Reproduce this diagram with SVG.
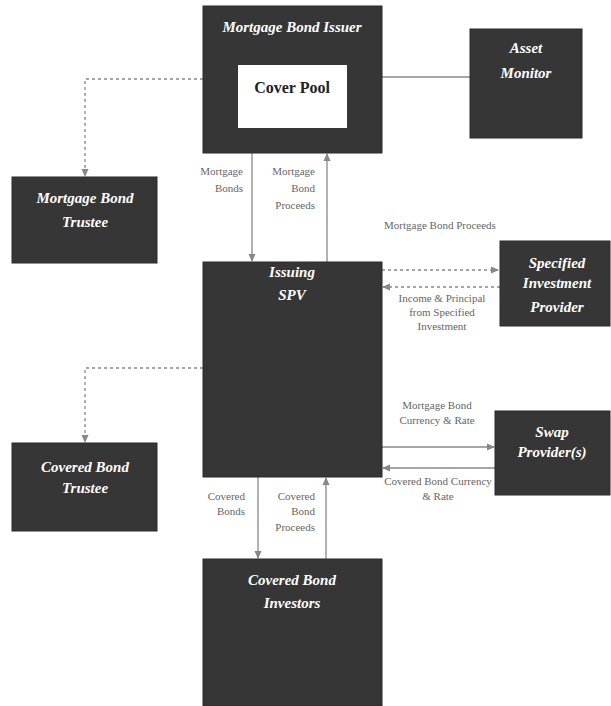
<svg xmlns="http://www.w3.org/2000/svg" width="611" height="706" viewBox="0 0 611 706">
<style>
.box{fill:#363636;stroke:#2a2a2a;stroke-width:1}
.t{font-family:"Liberation Serif",serif;font-weight:bold;font-style:italic;font-size:15px;fill:#ffffff;text-anchor:middle}
.cp{font-family:"Liberation Serif",serif;font-weight:bold;font-size:16px;fill:#222;text-anchor:middle}
.lbl{font-family:"Liberation Serif",serif;font-size:11px;fill:#666}
.m{text-anchor:middle}
.e{text-anchor:end}
.ln{stroke:#888;stroke-width:1.3;fill:none}
.d{stroke-dasharray:3,3}
</style>
<defs>
<marker id="ah" markerWidth="8" markerHeight="8" refX="7" refY="4" orient="auto" markerUnits="userSpaceOnUse">
<path d="M0,0.5 L8,4 L0,7.5 Z" fill="#888"/>
</marker>
</defs>
<rect width="611" height="706" fill="#ffffff"/>
<g id="connectors">
<line class="ln" x1="382" y1="77" x2="470" y2="77"/>
<polyline class="ln d" points="203,79 85,79 85,176" marker-end="url(#ah)"/>
<line class="ln" x1="252" y1="153" x2="252" y2="261" marker-end="url(#ah)"/>
<line class="ln" x1="327" y1="262" x2="327" y2="154" marker-end="url(#ah)"/>
<line class="ln d" x1="382" y1="270" x2="498" y2="270" marker-end="url(#ah)"/>
<line class="ln d" x1="500" y1="287" x2="383" y2="287" marker-end="url(#ah)"/>
<line class="ln" x1="382" y1="447" x2="494" y2="447" marker-end="url(#ah)"/>
<line class="ln" x1="495" y1="468" x2="383" y2="468" marker-end="url(#ah)"/>
<polyline class="ln d" points="203,368 85,368 85,442" marker-end="url(#ah)"/>
<line class="ln" x1="258" y1="477" x2="258" y2="558" marker-end="url(#ah)"/>
<line class="ln" x1="326" y1="559" x2="326" y2="478" marker-end="url(#ah)"/>
<text class="lbl e" x="243" y="175">Mortgage</text>
<text class="lbl e" x="243" y="192">Bonds</text>
<text class="lbl e" x="315" y="175">Mortgage</text>
<text class="lbl e" x="315" y="192">Bond</text>
<text class="lbl e" x="315" y="209">Proceeds</text>
<text class="lbl m" x="440" y="229">Mortgage Bond Proceeds</text>
<text class="lbl m" x="442" y="302">Income &amp; Principal</text>
<text class="lbl m" x="442" y="316">from Specified</text>
<text class="lbl m" x="442" y="330">Investment</text>
<text class="lbl m" x="437" y="409">Mortgage Bond</text>
<text class="lbl m" x="437" y="424">Currency &amp; Rate</text>
<text class="lbl m" x="438" y="485">Covered Bond Currency</text>
<text class="lbl m" x="438" y="500">&amp; Rate</text>
<text class="lbl e" x="245" y="500">Covered</text>
<text class="lbl e" x="245" y="515">Bonds</text>
<text class="lbl e" x="315" y="500">Covered</text>
<text class="lbl e" x="315" y="515">Bond</text>
<text class="lbl e" x="315" y="531">Proceeds</text>
</g>
<g id="issuer">
<rect class="box" x="203" y="6" width="179" height="147"/>
<text class="t" x="292" y="32">Mortgage Bond Issuer</text>
<rect x="238" y="65" width="109" height="63" fill="#ffffff"/>
<text class="cp" x="292" y="93">Cover Pool</text>
</g>
<g id="asset-monitor">
<rect class="box" x="470" y="29" width="112" height="109"/>
<text class="t" x="526" y="53">Asset</text>
<text class="t" x="526" y="78">Monitor</text>
</g>
<g id="mortgage-bond-trustee">
<rect class="box" x="12" y="177" width="145" height="86"/>
<text class="t" x="85" y="203">Mortgage Bond</text>
<text class="t" x="85" y="227">Trustee</text>
</g>
<g id="issuing-spv">
<rect class="box" x="203" y="262" width="179" height="215"/>
<text class="t" x="292" y="277">Issuing</text>
<text class="t" x="292" y="300">SPV</text>
</g>
<g id="specified-investment-provider">
<rect class="box" x="500" y="241" width="110" height="85"/>
<text class="t" x="557" y="268">Specified</text>
<text class="t" x="557" y="288">Investment</text>
<text class="t" x="557" y="312">Provider</text>
</g>
<g id="swap-providers">
<rect class="box" x="495" y="411" width="115" height="84"/>
<text class="t" x="552" y="437">Swap</text>
<text class="t" x="552" y="457">Provider(s)</text>
</g>
<g id="covered-bond-trustee">
<rect class="box" x="12" y="443" width="145" height="88"/>
<text class="t" x="85" y="472">Covered Bond</text>
<text class="t" x="85" y="493">Trustee</text>
</g>
<g id="covered-bond-investors">
<rect class="box" x="203" y="559" width="179" height="147"/>
<text class="t" x="292" y="585">Covered Bond</text>
<text class="t" x="292" y="608">Investors</text>
</g>
</svg>
